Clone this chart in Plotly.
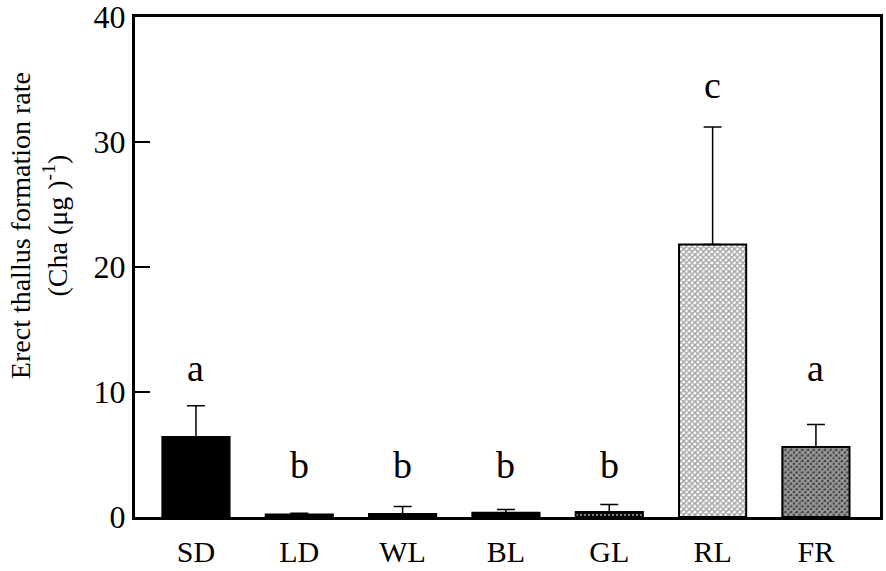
import plotly.graph_objects as go

# data
treatments = ["SD", "LD", "WL", "BL", "GL", "RL", "FR"]
rate_mean = [6.4, 0.2, 0.25, 0.35, 0.4, 21.8, 5.6]
rate_err = [2.5, 0.1, 0.6, 0.25, 0.6, 9.4, 1.8]
sig_letters = ["a", "b", "b", "b", "b", "c", "a"]
letter_y = [11.9, 4.2, 4.2, 4.2, 4.2, 34.6, 11.9]

# fill styles per bar
fills = ["black", "black", "black", "black", "black", "white", "#4a4a4a"]
pat_fg = ["black", "black", "black", "black", "white", "black", "black"]
pat_shape = ["", "", "", "", ".", "x", "x"]
pat_solid = [0, 0, 0, 0, 0.3, 0.6, 0.6]

fig = go.Figure()

fig.add_trace(go.Bar(
    x=treatments,
    y=rate_mean,
    width=0.65,
    marker=dict(
        color=fills,
        line=dict(color="black", width=2),
        pattern=dict(shape=pat_shape, fgcolor=pat_fg, bgcolor=fills,
                     size=4, solidity=pat_solid),
    ),
    error_y=dict(type="data", array=rate_err, arrayminus=[0] * 7,
                 symmetric=False, color="black", thickness=1.5, width=9),
    showlegend=False,
))

for t, lab, ly in zip(treatments, sig_letters, letter_y):
    fig.add_annotation(x=t, y=ly, text=lab, showarrow=False,
                       font=dict(family="Liberation Serif", size=38, color="black"))

# y axis title (sits above the plot centre in the original)
fig.add_annotation(
    xref="paper", yref="paper", x=-0.13, y=0.582,
    text="Erect thallus formation rate<br>(Cha (μg )<sup>-1</sup>)",
    textangle=-90, showarrow=False, xanchor="center", yanchor="middle",
    font=dict(family="Liberation Serif", size=28, color="black"),
)

fig.update_layout(
    width=886, height=571,
    margin=dict(l=135, r=6, t=17, b=54),
    plot_bgcolor="white",
    paper_bgcolor="white",
    font=dict(family="Liberation Serif", color="black"),
)

fig.update_xaxes(
    range=[-0.59, 6.62],
    showline=True, linecolor="black", linewidth=3, mirror=True,
    ticks="", tickfont=dict(size=30), ticklabelstandoff=6,
    showgrid=False, automargin=False,
)

fig.update_yaxes(
    range=[0, 40],
    tickvals=[0, 10, 20, 30, 40],
    showline=True, linecolor="black", linewidth=3, mirror=True,
    ticks="inside", ticklen=15, tickwidth=1.5, tickcolor="black",
    tickfont=dict(size=32), ticklabeloverflow="allow",
    showgrid=False, zeroline=False, automargin=False,
)

fig.write_html("out.html", config={"displayModeBar": False},
               post_script="document.body.style.margin='0px';")
